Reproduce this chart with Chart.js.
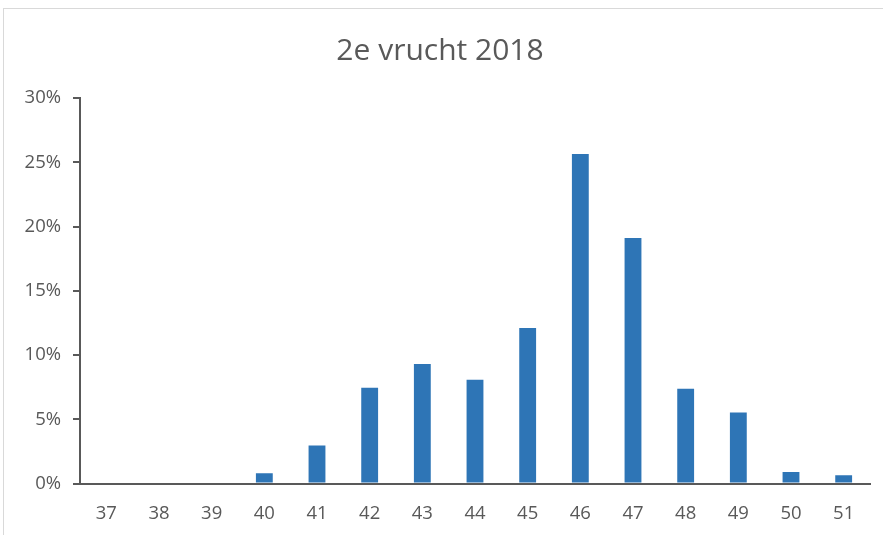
<!DOCTYPE html>
<html lang="en">
<head>
    <meta charset="UTF-8">
    <title>2e vrucht 2018</title>
    <script src="https://cdn.jsdelivr.net/npm/chart.js"></script>
    <style>
        * { margin: 0; padding: 0; box-sizing: border-box; }
        body { background: #ffffff; width: 883px; height: 535px; overflow: hidden; }
        .frame {
            position: absolute;
            left: 3px;
            top: 8px;
            width: 890px;
            height: 540px;
            border: 1px solid #d9d9d9;
        }
        .chart-box {
            position: absolute;
            left: 0;
            top: 0;
            width: 883px;
            height: 535px;
        }
    </style>
</head>
<body>
    <div class="frame"></div>
    <div class="chart-box">
        <canvas id="fruitChart"></canvas>
    </div>

    <script>
        const categories = ['37', '38', '39', '40', '41', '42', '43', '44', '45', '46', '47', '48', '49', '50', '51'];
        const shares = [0, 0, 0, 0.8, 2.95, 7.45, 9.3, 8.07, 12.1, 25.65, 19.1, 7.37, 5.52, 0.9, 0.64];
        const yTicks = [0, 5, 10, 15, 20, 25, 30];

        const textColor = '#595959';
        const fontFamily = "'Open Sans', 'Noto Sans', sans-serif";

        const ctx = document.getElementById('fruitChart').getContext('2d');
        new Chart(ctx, {
            type: 'bar',
            data: {
                labels: categories,
                datasets: [{
                    label: '2e vrucht 2018',
                    data: shares,
                    backgroundColor: '#2e75b6',
                    borderWidth: 0,
                    categoryPercentage: 1,
                    barPercentage: 0.32
                }]
            },
            options: {
                responsive: true,
                maintainAspectRatio: false,
                animation: false,
                layout: { padding: { left: 10, right: 13, top: 12, bottom: 0 } },
                plugins: {
                    legend: { display: false },
                    tooltip: { enabled: false },
                    title: {
                        display: true,
                        text: '2e vrucht 2018',
                        color: textColor,
                        font: { family: fontFamily, size: 30, weight: 'normal' },
                        padding: { top: 21, bottom: 29 }
                    }
                },
                scales: {
                    x: {
                        afterFit: axis => { axis.height = 51.5; },
                        grid: { display: true, drawOnChartArea: false, drawTicks: false },
                        border: { color: textColor, width: 2 },
                        ticks: {
                            color: textColor,
                            font: { family: fontFamily, size: 18.5 },
                            padding: 19,
                            maxRotation: 0
                        }
                    },
                    y: {
                        min: 0,
                        max: 30,
                        afterBuildTicks: axis => { axis.ticks = yTicks.map(v => ({ value: v })); },
                        afterFit: axis => { axis.width = 70; },
                        grid: { drawOnChartArea: false, drawTicks: true, tickLength: 7, color: textColor, lineWidth: 2 },
                        border: { color: textColor, width: 2 },
                        ticks: {
                            color: textColor,
                            font: { family: fontFamily, size: 18.5 },
                            padding: 12,
                            callback: v => v + '%'
                        }
                    }
                }
            }
        });
    </script>
</body>
</html>
